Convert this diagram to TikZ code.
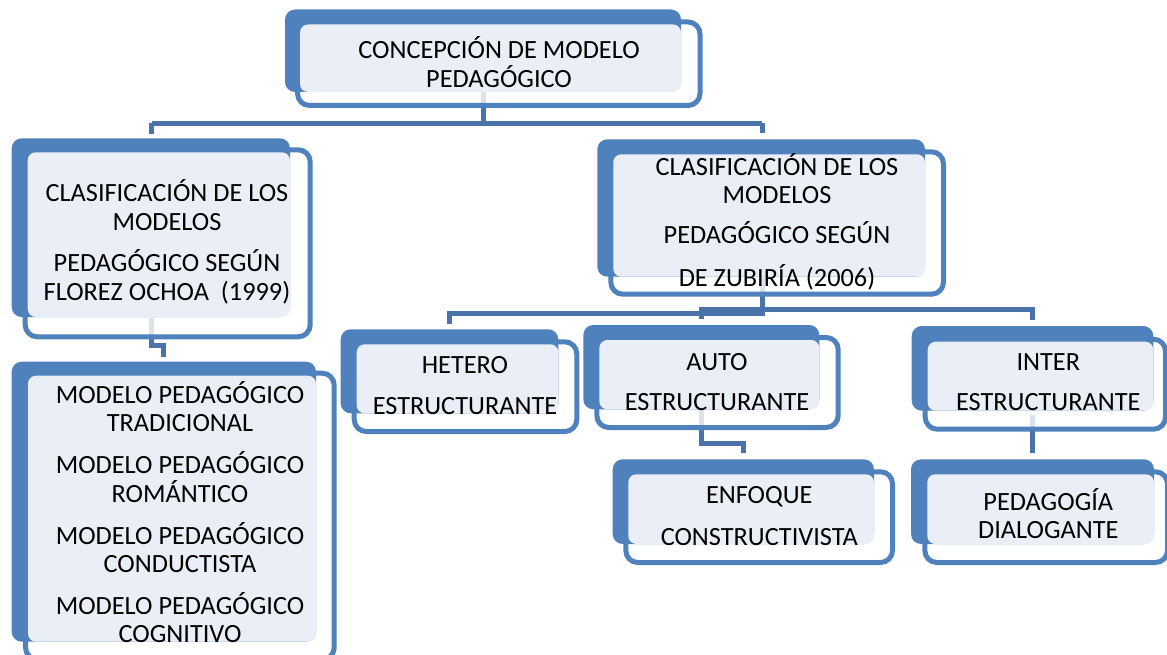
\documentclass[tikz,border=0pt]{standalone}
\usepackage{fontspec}
\setmainfont{Carlito}
\usetikzlibrary{calc}
\definecolor{boxblue}{HTML}{4F81BD}
\definecolor{connblue}{HTML}{4A72AB}
\definecolor{lightfill}{HTML}{EAEEF6}
\tikzset{
  cbox/.style={rectangle, draw=boxblue, line width=5pt, fill=white, fill opacity=0.8, draw opacity=1, rounded corners=12pt, inner sep=0pt, outer sep=0pt},
  conn/.style={draw=connblue, line width=5pt},
  txt/.style={font=\fontsize{26.3}{28.3}\selectfont, align=center, inner sep=0pt, anchor=base, text=black},
}
% #1 name, A: #2 #3 #4 #5, C outer: #6 #7 #8 #9
\newcommand\smartbox[9]{%
  \node[cbox, minimum width={#8-#6-5}, minimum height={#9-#7-5}] (#1) at ({(#6+#8)/2},{(#7+#9)/2}) {};
  \fill[boxblue, rounded corners=10pt] (#2,#3) rectangle (#4,#5);
  \fill[lightfill, rounded corners=8pt] ({#6+5},{#7+5}) rectangle (#4,#5);
}
\begin{document}
\begin{tikzpicture}[x=1pt,y=-1pt]
\useasboundingbox (0,0) rectangle (1167,655);
% junction coordinates
\coordinate (jt) at (483.5,123.5);
\coordinate (jL) at (151.7,123.5);
\coordinate (jR) at (762,123.5);
\coordinate (jf1) at (151.7,345.5);
\coordinate (jf2) at (163.3,345.5);
\coordinate (jz1) at (762.5,313);
\coordinate (jz2) at (449.5,313);
\coordinate (jz3) at (701.3,309.5);
\coordinate (jz4) at (1032.5,309.5);
\coordinate (ja1) at (701.7,443);
\coordinate (ja2) at (743.3,443);
\coordinate (ji) at (1032.5,415);
% connectors (under boxes)
\draw[conn] (483.5,92) -- (jt);
\draw[conn] (jL) -- (jR);
\draw[conn] (jL) -- ++(0,10.5);
\draw[conn] (jR) -- ++(0,10);
\draw[conn] (151.7,318) -- (jf1) -- (jf2) -- ++(0,11.5);
\draw[conn] (762.5,278) -- (jz1) -- (jz2) -- ++(0,10.5);
\draw[conn] (jz3) ++(0,9.8) -- (jz3) -- (jz4) -- ++(0,10.5);
\draw[conn] (701.7,410) -- (ja1) -- (ja2) -- ++(0,10.3);
\draw[conn] (ji) -- ++(0,38);
% boxes
\smartbox{top}{285}{9.5}{681}{92}{295}{19.5}{702.5}{108}
\smartbox{flor}{11.7}{138.3}{290}{317}{22.7}{147.3}{312.7}{339.3}
\smartbox{list}{11.7}{361.7}{316}{641.7}{23}{370.7}{336.7}{662}
\smartbox{zub}{597.3}{139.3}{925}{276.7}{608.3}{149.3}{946}{296.7}
\smartbox{het}{340.7}{329.3}{558.3}{413.3}{351.7}{339.3}{579.3}{434}
\smartbox{auto}{583.3}{325}{819.3}{409.3}{594.3}{335}{840.7}{430}
\smartbox{inter}{911.7}{326}{1153.3}{410.7}{922.7}{336.7}{1168}{431.7}
\smartbox{enf}{612.7}{459.3}{874}{544}{623.3}{469.3}{895}{565}
\smartbox{ped}{911}{459.3}{1154}{544}{922.3}{469.3}{1170}{565}
% texts (anchor base = baseline of last line)
\node[txt] (topT) at (499,87.3) {CONCEPCIÓN DE MODELO\\PEDAGÓGICO};
\node[txt] (florT) at (167,300) {CLASIFICACIÓN DE LOS\\MODELOS\\[13.4pt]PEDAGÓGICO SEGÚN\\FLOREZ OCHOA~~(1999)};
\node[txt] (listT) at (180,642.7) {MODELO PEDAGÓGICO\\TRADICIONAL\\[13.7pt]MODELO PEDAGÓGICO\\ROMÁNTICO\\[13.7pt]MODELO PEDAGÓGICO\\CONDUCTISTA\\[13.7pt]MODELO PEDAGÓGICO\\COGNITIVO};
\node[txt] (zubT) at (777,286.7) {CLASIFICACIÓN DE LOS\\MODELOS\\[11.7pt]PEDAGÓGICO SEGÚN\\[15.1pt]DE ZUBIRÍA (2006)};
\node[txt] (hetT) at (465,414) {HETERO\\[12.4pt]ESTRUCTURANTE};
\node[txt] (autoT) at (717,410.7) {AUTO\\[12.4pt]ESTRUCTURANTE};
\node[txt] (interT) at (1048.3,410.7) {INTER\\[12.4pt]ESTRUCTURANTE};
\node[txt] (enfT) at (759.3,545) {ENFOQUE\\[13.4pt]CONSTRUCTIVISTA};
\node[txt] (pedT) at (1048.3,538.3) {PEDAGOGÍA\\DIALOGANTE};
\end{tikzpicture}
\end{document}
